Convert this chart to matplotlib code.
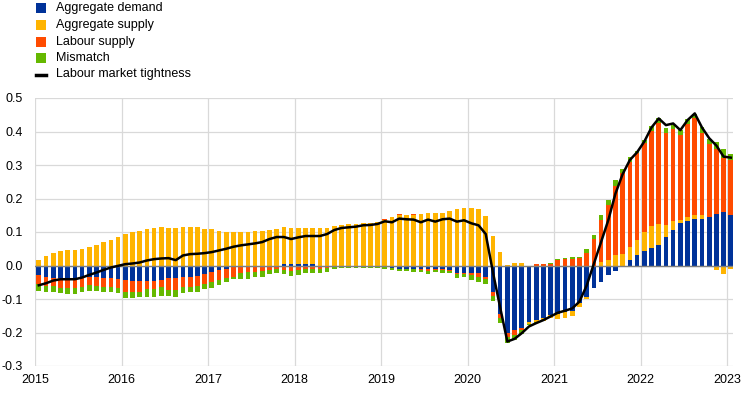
import numpy as np
import matplotlib
matplotlib.use("Agg")
import matplotlib.pyplot as plt
from matplotlib.patches import Rectangle
from matplotlib.lines import Line2D

plt.rcParams['font.family'] = ['Liberation Sans', 'DejaVu Sans']
plt.rcParams['axes.unicode_minus'] = False

# ---------------- data (monthly, Jan 2015 - Jan 2023) ----------------
start_year = 2015
n_months = 97

aggregate_demand = [
    -0.028, -0.035, -0.038, -0.038, -0.041, -0.041, -0.035, -0.033, -0.035, -0.038, -0.038, -0.041,
    -0.043, -0.045, -0.045, -0.045, -0.045, -0.043, -0.038, -0.037, -0.035, -0.035, -0.031, -0.026,
    -0.020, -0.013, -0.009, -0.005, -0.002, -0.001, 0.000, 0.000, 0.000, 0.000, 0.003, 0.005,
    0.005, 0.005, 0.003, 0.000, 0.000, 0.000, 0.000, -0.001, -0.001, -0.001, -0.001, -0.004,
    -0.005, -0.008, -0.010, -0.010, -0.010, -0.010, -0.011, -0.010, -0.010, -0.013, -0.021, -0.021,
    -0.022, -0.023, -0.033, -0.078, -0.145, -0.200, -0.193, -0.188, -0.170, -0.163, -0.157, -0.148,
    -0.145, -0.138, -0.135, -0.113, -0.095, -0.068, -0.050, -0.028, -0.016, 0.000, 0.015, 0.031,
    0.044, 0.052, 0.061, 0.086, 0.106, 0.126, 0.134, 0.140, 0.140, 0.146, 0.153, 0.160, 0.152,
]
aggregate_supply = [
    0.017, 0.029, 0.036, 0.042, 0.045, 0.047, 0.049, 0.054, 0.062, 0.069, 0.077, 0.084,
    0.094, 0.101, 0.104, 0.109, 0.112, 0.116, 0.113, 0.112, 0.114, 0.116, 0.115, 0.110,
    0.108, 0.103, 0.101, 0.099, 0.099, 0.101, 0.104, 0.104, 0.107, 0.110, 0.111, 0.107,
    0.106, 0.106, 0.110, 0.113, 0.113, 0.117, 0.121, 0.124, 0.124, 0.126, 0.126, 0.129,
    0.137, 0.144, 0.152, 0.150, 0.150, 0.153, 0.156, 0.156, 0.157, 0.163, 0.168, 0.173,
    0.171, 0.170, 0.148, 0.088, 0.039, 0.002, 0.006, 0.006, -0.005, -0.006, -0.008, -0.008,
    -0.015, -0.018, -0.016, -0.010, -0.005, 0.000, 0.011, 0.016, 0.031, 0.034, 0.041, 0.045,
    0.056, 0.066, 0.064, 0.035, 0.027, 0.010, 0.012, 0.010, 0.011, -0.005, -0.014, -0.025, -0.011,
]
labour_supply = [
    -0.028, -0.026, -0.023, -0.028, -0.027, -0.027, -0.028, -0.025, -0.026, -0.025, -0.027, -0.027,
    -0.035, -0.033, -0.033, -0.025, -0.025, -0.022, -0.035, -0.036, -0.030, -0.028, -0.030, -0.030,
    -0.028, -0.030, -0.029, -0.028, -0.021, -0.018, -0.018, -0.016, -0.013, -0.011, -0.013, -0.015,
    -0.013, -0.010, -0.010, -0.009, -0.007, -0.002, 0.000, 0.000, 0.000, 0.000, 0.000, 0.000,
    0.002, 0.000, 0.003, 0.000, 0.003, -0.004, -0.004, -0.004, -0.003, -0.003, -0.004, -0.005,
    -0.007, -0.010, -0.008, -0.012, -0.012, -0.014, -0.013, -0.005, 0.000, 0.003, 0.004, 0.005,
    0.015, 0.018, 0.020, 0.021, 0.038, 0.079, 0.126, 0.164, 0.207, 0.241, 0.254, 0.259,
    0.265, 0.284, 0.300, 0.276, 0.275, 0.255, 0.277, 0.289, 0.246, 0.218, 0.195, 0.162, 0.162,
]
mismatch = [
    -0.019, -0.017, -0.017, -0.017, -0.018, -0.018, -0.015, -0.017, -0.015, -0.015, -0.013, -0.015,
    -0.020, -0.020, -0.017, -0.023, -0.023, -0.026, -0.018, -0.020, -0.016, -0.016, -0.017, -0.015,
    -0.018, -0.015, -0.010, -0.008, -0.016, -0.020, -0.017, -0.017, -0.013, -0.012, -0.013, -0.016,
    -0.015, -0.013, -0.013, -0.013, -0.013, -0.008, -0.007, -0.006, -0.007, -0.006, -0.007, -0.004,
    -0.004, -0.006, -0.005, -0.005, -0.009, -0.006, -0.010, -0.006, -0.008, -0.005, -0.013, -0.009,
    -0.013, -0.015, -0.014, -0.015, -0.016, -0.018, -0.017, -0.012, -0.004, -0.003, 0.000, 0.001,
    0.003, 0.003, 0.004, 0.005, 0.011, 0.012, 0.013, 0.016, 0.017, 0.013, 0.015, 0.008,
    0.010, 0.015, 0.014, 0.012, 0.010, 0.013, 0.014, 0.012, 0.015, 0.014, 0.020, 0.026, 0.018,
]
labour_market_tightness = [
    -0.059, -0.053, -0.045, -0.041, -0.041, -0.041, -0.036, -0.028, -0.021, -0.013, -0.006, -0.001,
    0.004, 0.006, 0.009, 0.015, 0.019, 0.021, 0.022, 0.016, 0.030, 0.034, 0.035, 0.037,
    0.040, 0.045, 0.050, 0.056, 0.060, 0.063, 0.066, 0.070, 0.079, 0.085, 0.085, 0.079,
    0.084, 0.088, 0.088, 0.088, 0.094, 0.106, 0.112, 0.114, 0.116, 0.120, 0.121, 0.124,
    0.132, 0.129, 0.140, 0.138, 0.137, 0.129, 0.137, 0.131, 0.138, 0.140, 0.131, 0.135,
    0.126, 0.120, 0.094, -0.020, -0.125, -0.227, -0.219, -0.202, -0.182, -0.172, -0.163, -0.152,
    -0.141, -0.135, -0.128, -0.108, -0.060, 0.005, 0.070, 0.135, 0.215, 0.273, 0.315, 0.338,
    0.370, 0.412, 0.439, 0.419, 0.424, 0.404, 0.434, 0.454, 0.412, 0.380, 0.358, 0.325, 0.322,
]

series_names = ["Aggregate demand", "Aggregate supply", "Labour supply", "Mismatch"]
line_name = "Labour market tightness"
year_labels = ["2015", "2016", "2017", "2018", "2019", "2020", "2021", "2022", "2023"]
y_ticks = [-0.3, -0.2, -0.1, 0.0, 0.1, 0.2, 0.3, 0.4, 0.5]

colors = ["#003299", "#FFB400", "#FF4B00", "#65B800"]

# ---------------- figure ----------------
W, H = 744, 393
fig = plt.figure(figsize=(W / 100, H / 100), dpi=100)
ax_l, ax_r, ax_t, ax_b = 35.2, 733, 98, 366
ax = fig.add_axes([ax_l / W, 1 - ax_b / H, (ax_r - ax_l) / W, (ax_b - ax_t) / H])

x = start_year + (np.arange(n_months) + 0.5) / 12.0
width = 0.65 / 12.0

comps = [np.array(aggregate_demand), np.array(aggregate_supply),
         np.array(labour_supply), np.array(mismatch)]
pos_base = np.zeros(n_months)
neg_base = np.zeros(n_months)
for vals, col in zip(comps, colors):
    pos = np.where(vals > 0, vals, 0)
    neg = np.where(vals < 0, vals, 0)
    ax.bar(x, pos, width=width, bottom=pos_base, color=col, linewidth=0, zorder=2)
    ax.bar(x, neg, width=width, bottom=neg_base, color=col, linewidth=0, zorder=2)
    pos_base += pos
    neg_base += neg

ax.axhline(0, color="#7f7f7f", lw=1.0, zorder=3)
ax.plot(x, labour_market_tightness, color="black", lw=1.8, zorder=4,
        solid_joinstyle="round")

ax.set_xlim(2015, 2015 + (ax_r - ax_l) / 86.5)
ax.set_ylim(-0.3, 0.5)
ax.set_yticks(y_ticks)
ax.set_yticklabels([f"{v:.1f}" for v in y_ticks])
years = [int(y) for y in year_labels]
ax.set_xticks(years)
ax.set_xticklabels(year_labels)
ax.tick_params(axis="both", length=0, labelsize=9, colors="black")
ax.tick_params(axis="y", pad=9)
ax.tick_params(axis="x", pad=6)
ax.grid(True, color="#d9d9d9", lw=0.9, zorder=0)
ax.set_axisbelow(True)
for s in ax.spines.values():
    s.set_visible(False)

# ---------------- legend ----------------
leg_x = 35.7
row_y = [8.3, 25.0, 41.7, 58.3, 74.5]
for i, (name, col) in enumerate(zip(series_names, colors)):
    cy = row_y[i]
    fig.patches.append(Rectangle(((leg_x) / W, 1 - (cy + 5) / H), 10 / W, 10 / H,
                                 transform=fig.transFigure, color=col, lw=0))
    fig.text(56 / W, 1 - cy / H, name, fontsize=9, va="center", ha="left")
cy = row_y[4]
fig.lines.append(Line2D([leg_x / W, (leg_x + 10) / W], [1 - cy / H, 1 - cy / H],
                        transform=fig.transFigure, color="black", lw=2.5))
fig.text(56 / W, 1 - cy / H, line_name, fontsize=9, va="center", ha="left")

fig.savefig("out.png", dpi=100)
